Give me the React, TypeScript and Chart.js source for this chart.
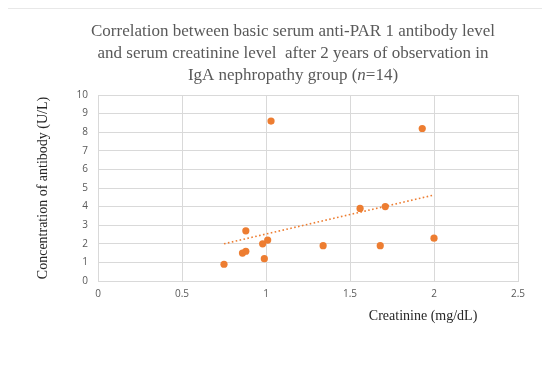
import React, { useEffect, useRef } from "react";
import { Chart, registerables } from "chart.js";

Chart.register(...registerables);

// ---- Text ----
const titleLines = [
  "Correlation between basic serum anti-PAR 1 antibody level",
  "and serum creatinine level  after 2 years of observation in",
];
const titleLastPre = "IgA nephropathy group (";
const titleLastItalic = "n";
const titleLastPost = "=14)";
const xAxisTitle = "Creatinine (mg/dL)";
const yAxisTitle = "Concentration of antibody (U/L)";

// ---- Data ----
const creatinine = [0.75, 0.86, 0.88, 0.88, 0.98, 1.01, 0.99, 1.03, 1.34, 1.56, 1.71, 1.68, 1.93, 2.0];
const antibody = [0.9, 1.5, 1.6, 2.7, 2.0, 2.2, 1.2, 8.6, 1.9, 3.9, 4.0, 1.9, 8.2, 2.3];

// ---- Axis ranges / ticks ----
const xMin = 0;
const xMax = 2.5;
const xStep = 0.5;
const yMin = 0;
const yMax = 10;
const yStep = 1;

// Linear least-squares trendline over the data range (as Excel does)
function linearFit(xs: number[], ys: number[]) {
  const n = xs.length;
  const mx = xs.reduce((a, b) => a + b, 0) / n;
  const my = ys.reduce((a, b) => a + b, 0) / n;
  let sxy = 0;
  let sxx = 0;
  for (let i = 0; i < n; i++) {
    sxy += (xs[i] - mx) * (ys[i] - my);
    sxx += (xs[i] - mx) * (xs[i] - mx);
  }
  const slope = sxy / sxx;
  const intercept = my - slope * mx;
  const x0 = Math.min(...xs);
  const x1 = Math.max(...xs);
  return [
    { x: x0, y: intercept + slope * x0 },
    { x: x1, y: intercept + slope * x1 },
  ];
}

const ORANGE = "#ED7D31";
const GRID = "#d9d9d9";
const SERIF = "'Liberation Serif', 'Times New Roman', serif";

const textPlugin = {
  id: "excelTexts",
  afterDraw(chart: any) {
    const ctx = chart.ctx;
    const ca = chart.chartArea;
    ctx.save();
    // Chart title
    ctx.fillStyle = "#595959";
    ctx.textBaseline = "alphabetic";
    ctx.font = `17px ${SERIF}`;
    ctx.textAlign = "center";
    const cx = 293;
    ctx.fillText(titleLines[0], cx, 35.5);
    ctx.fillText(titleLines[1], cx, 57.5);
    const normalFont = `17px ${SERIF}`;
    const italicFont = `italic 17px ${SERIF}`;
    ctx.font = normalFont;
    const w1 = ctx.measureText(titleLastPre).width;
    const w3 = ctx.measureText(titleLastPost).width;
    ctx.font = italicFont;
    const w2 = ctx.measureText(titleLastItalic).width;
    let sx = cx - (w1 + w2 + w3) / 2;
    ctx.textAlign = "left";
    ctx.font = normalFont;
    ctx.fillText(titleLastPre, sx, 79.5);
    sx += w1;
    ctx.font = italicFont;
    ctx.fillText(titleLastItalic, sx, 79.5);
    sx += w2;
    ctx.font = normalFont;
    ctx.fillText(titleLastPost, sx, 79.5);

    // X axis title
    ctx.font = `14px ${SERIF}`;
    ctx.fillStyle = "#262626";
    ctx.textAlign = "center";
    ctx.fillText(xAxisTitle, ca.left + 0.774 * (ca.right - ca.left), ca.bottom + 38.5);
    ctx.restore();
  },
};

export default function App() {
  const canvasRef = useRef<HTMLCanvasElement | null>(null);

  useEffect(() => {
    if (!canvasRef.current) return;
    const points = creatinine.map((x, i) => ({ x, y: antibody[i] }));
    const trend = linearFit(creatinine, antibody);

    const chart = new Chart(canvasRef.current, {
      type: "scatter",
      data: {
        datasets: [
          {
            label: "Antibody",
            data: points,
            backgroundColor: ORANGE,
            borderColor: ORANGE,
            pointRadius: 3.6,
            pointBorderWidth: 0,
            order: 2,
          },
          {
            type: "line",
            label: "Linear trend",
            data: trend,
            borderColor: ORANGE,
            borderWidth: 1.6,
            borderDash: [1.6, 2.4],
            pointRadius: 0,
            fill: false,
            order: 1,
          } as any,
        ],
      },
      options: {
        responsive: false,
        animation: false,
        events: [],
        layout: { padding: { left: 31, right: 32, top: 95, bottom: 66 } },
        plugins: {
          legend: { display: false },
          tooltip: { enabled: false },
          title: { display: false },
        },
        scales: {
          x: {
            type: "linear",
            min: xMin,
            max: xMax,
            ticks: {
              stepSize: xStep,
              color: "#595959",
              font: { family: "'Open Sans', sans-serif", size: 10 },
              padding: 7,
              callback: (v: any) => String(v),
            },
            grid: { color: GRID, lineWidth: 1, drawTicks: false },
            border: { color: GRID },
            afterFit: (s: any) => {
              s.height = 30;
            },
          },
          y: {
            type: "linear",
            min: yMin,
            max: yMax,
            ticks: {
              stepSize: yStep,
              color: "#595959",
              font: { family: "'Open Sans', sans-serif", size: 10 },
              padding: 10,
            },
            grid: { color: GRID, lineWidth: 1, drawTicks: false },
            border: { color: GRID },
            title: {
              display: true,
              text: yAxisTitle,
              color: "#262626",
              font: { family: SERIF, size: 14 },
              padding: { top: 4, bottom: 4 },
            },
            afterFit: (s: any) => {
              s.width = 67;
            },
          },
        },
      },
      plugins: [textPlugin],
    });
    return () => chart.destroy();
  }, []);

  return (
    <div
      style={{
        position: "relative",
        margin: "-8px",
        width: 550,
        height: 377,
        overflow: "hidden",
        background: "#fff",
      }}
    >
      <div
        style={{
          position: "absolute",
          left: 6,
          top: 8,
          width: 538,
          height: 364,
          boxSizing: "border-box",
          border: "1px solid #e8e8e8",
        }}
      />
      <canvas
        ref={canvasRef}
        width={550}
        height={377}
        style={{ position: "absolute", left: 0, top: 0, width: 550, height: 377 }}
      />
    </div>
  );
}
